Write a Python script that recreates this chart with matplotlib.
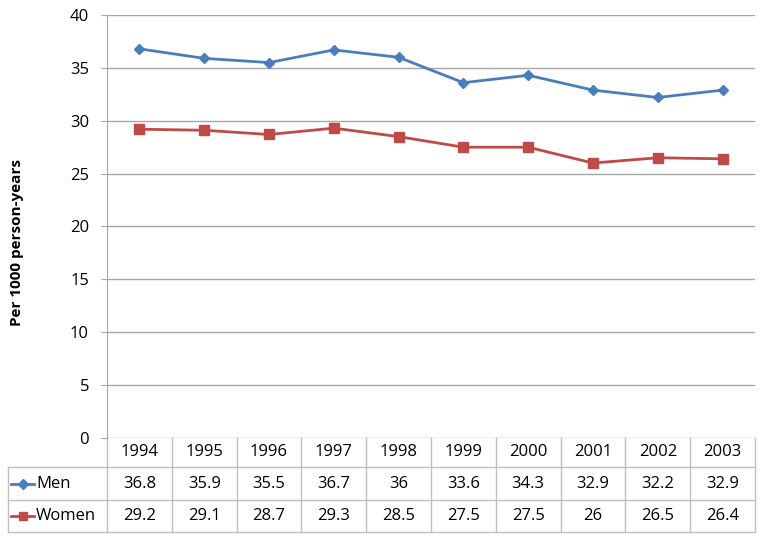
import matplotlib.pyplot as plt
from matplotlib.transforms import blended_transform_factory
from matplotlib.lines import Line2D

years = ['1994', '1995', '1996', '1997', '1998', '1999', '2000', '2001', '2002', '2003']
men = [36.8, 35.9, 35.5, 36.7, 36, 33.6, 34.3, 32.9, 32.2, 32.9]
women = [29.2, 29.1, 28.7, 29.3, 28.5, 27.5, 27.5, 26, 26.5, 26.4]
men_labels = ['36.8', '35.9', '35.5', '36.7', '36', '33.6', '34.3', '32.9', '32.2', '32.9']
women_labels = ['29.2', '29.1', '28.7', '29.3', '28.5', '27.5', '27.5', '26', '26.5', '26.4']

blue = '#4A7EBB'
red = '#BE4B48'
grid_c = '#A6A6A6'
font = 'Open Sans'

W, H = 764, 537
fig = plt.figure(figsize=(W / 100, H / 100), dpi=100)
ax = fig.add_axes([107 / W, 1 - 438 / H, (755 - 107) / W, (438 - 15) / H])

x = list(range(len(years)))
ax.plot(x, men, color=blue, lw=2, marker='D', ms=5.5, label='Men')
ax.plot(x, women, color=red, lw=2, marker='s', ms=6.5, label='Women')

ax.set_xlim(-0.5, len(years) - 0.5)
ax.set_ylim(0, 40)
ax.set_yticks(range(0, 41, 5))
ax.set_xticks([])
ax.yaxis.grid(True, color=grid_c, lw=1)
ax.set_axisbelow(True)
for s in ['top', 'right', 'bottom']:
    ax.spines[s].set_visible(False)
ax.spines['left'].set_color(grid_c)
ax.tick_params(axis='y', length=4, color=grid_c, pad=9, labelsize=12)
for lab in ax.get_yticklabels():
    lab.set_fontfamily(font)

fx = lambda px: px / W
fy = lambda py: 1 - py / H
fig.text(fx(17), fy(242), 'Per 1000 person-years', rotation=90, ha='center', va='center',
         fontsize=11, fontweight='bold', fontfamily=font)

# data table below the plot
tr = blended_transform_factory(ax.transData, fig.transFigure)
rows = [438, 467, 500, 532]
lc = '#BFBFBF'
for i in range(len(years) + 1):
    ax.add_line(Line2D([i - 0.5, i - 0.5], [fy(rows[0]), fy(rows[3])], transform=tr,
                       color=lc, lw=1, clip_on=False))
for r in rows[1:]:
    fig.add_artist(Line2D([fx(8), fx(755)], [fy(r), fy(r)], color=lc, lw=1))
fig.add_artist(Line2D([fx(8), fx(8)], [fy(rows[1]), fy(rows[3])], color=lc, lw=1))

tk = dict(ha='center', va='center', fontsize=12, fontfamily=font, transform=tr, clip_on=False)
for i, yr in enumerate(years):
    ax.text(i, fy((rows[0] + rows[1]) / 2), yr, **tk)
    ax.text(i, fy((rows[1] + rows[2]) / 2), men_labels[i], **tk)
    ax.text(i, fy((rows[2] + rows[3]) / 2), women_labels[i], **tk)

for name, col, mk, ms, (r0, r1) in [('Men', blue, 'D', 5, (rows[1], rows[2])),
                                     ('Women', red, 's', 6, (rows[2], rows[3]))]:
    yc = fy((r0 + r1) / 2)
    fig.add_artist(Line2D([fx(11), fx(34)], [yc, yc], color=col, lw=2))
    fig.add_artist(Line2D([fx(22.5)], [yc], color=col, marker=mk, ms=ms))
    fig.text(fx(36), yc, name, ha='left', va='center', fontsize=12, fontfamily=font)

fig.savefig('out.png', dpi=100)
